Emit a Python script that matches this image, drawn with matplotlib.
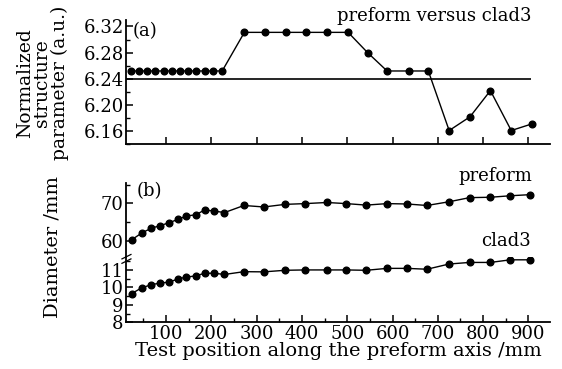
import numpy as np
import matplotlib.pyplot as plt
from matplotlib.ticker import MultipleLocator

plt.rcParams['font.family'] = ['DejaVu Serif']
plt.rcParams['font.size'] = 13

# (a) normalized structure parameter, preform versus clad3
pos_a = [22, 40, 58, 76, 95, 113, 131, 149, 167, 186, 204, 224,
         273, 319, 364, 410, 455, 502, 545, 588, 636, 679,
         725, 771, 816, 862, 907]
param_a = [6.252] * 12 + [6.311] * 6 + [6.28, 6.252, 6.252, 6.252,
                                       6.161, 6.182, 6.222, 6.161, 6.171]
ref_level = 6.24

# (b) diameters
pos_b = [24, 46, 67, 87, 107, 127, 145, 166, 185, 207, 229,
         272, 316, 363, 407, 455, 498, 542, 588, 632, 676,
         725, 770, 816, 860, 904]
preform = [60.2, 62.0, 63.3, 64.0, 64.8, 65.7, 66.6, 66.9, 68.2, 67.9, 67.5,
           69.4, 69.0, 69.7, 69.9, 70.2, 69.9, 69.5, 69.9, 69.8, 69.4,
           70.4, 71.5, 71.6, 72.0, 72.3]
clad3 = [9.64, 9.97, 10.15, 10.25, 10.3, 10.49, 10.59, 10.66, 10.81, 10.81, 10.74,
         10.9, 10.89, 10.98, 11.0, 11.0, 11.0, 10.98, 11.09, 11.09, 11.04,
         11.34, 11.43, 11.43, 11.58, 11.58]

fig = plt.figure(figsize=(5.62, 3.69), dpi=100)
ax_a = fig.add_axes([0.225, 0.609, 0.754, 0.337])
ax_hi = fig.add_axes([0.225, 0.3044, 0.754, 0.199])
ax_lo = fig.add_axes([0.225, 0.1266, 0.754, 0.1778])

xlim = (12.7, 948)
line_kw = dict(color='black', lw=1.0, marker='o', ms=4.8)

def style(ax):
    for s in ['top', 'right']:
        ax.spines[s].set_visible(False)
    for s in ['left', 'bottom']:
        ax.spines[s].set_linewidth(1.3)
    ax.tick_params(which='major', direction='in', length=5, width=1.1, pad=2)
    ax.tick_params(which='minor', direction='in', length=3, width=1.0)
    ax.set_xlim(*xlim)

# panel (a)
style(ax_a)
ax_a.plot(pos_a, param_a, **line_kw)
ax_a.hlines(ref_level, xlim[0], 905, color='black', lw=1.2)
ax_a.set_ylim(6.14, 6.33)
ax_a.yaxis.set_minor_locator(MultipleLocator(0.02))
ax_a.set_yticks([6.16, 6.20, 6.24, 6.28, 6.32])
ax_a.set_yticklabels(['6.16', '6.20', '6.24', '6.28', '6.32'])
ax_a.set_xticks(np.arange(100, 901, 100))
ax_a.tick_params(axis='x', labelbottom=False)
ax_a.text(0.015, 0.98, '(a)', transform=ax_a.transAxes, va='top', ha='left')
ax_a.text(0.957, 1.105, 'preform versus clad3', transform=ax_a.transAxes,
          va='top', ha='right')
fig.text(0.075, 0.775, 'Normalized\nstructure\nparameter (a.u.)', rotation=90,
         ha='center', va='center', linespacing=0.95, fontsize=13.5)

# panel (b), broken y axis
style(ax_hi)
ax_hi.spines['bottom'].set_visible(False)
ax_hi.plot(pos_b, preform, **line_kw)
ax_hi.set_ylim(55.7, 75.35)
ax_hi.set_yticks([60, 70])
ax_hi.yaxis.set_minor_locator(MultipleLocator(5))
ax_hi.tick_params(axis='x', which='both', bottom=False, labelbottom=False)
ax_hi.patch.set_visible(False)
ax_hi.text(0.025, 1.02, '(b)', transform=ax_hi.transAxes, va='top', ha='left')
ax_hi.text(0.957, 1.22, 'preform', transform=ax_hi.transAxes, va='top', ha='right')

style(ax_lo)
ax_lo.plot(pos_b, clad3, **line_kw)
ax_lo.set_ylim(8, 11.76)
ax_lo.set_yticks([8, 9, 10, 11])
ax_lo.yaxis.set_minor_locator(MultipleLocator(0.5))
ax_lo.set_xticks(np.arange(100, 901, 100))
ax_lo.xaxis.set_minor_locator(MultipleLocator(50))
ax_lo.patch.set_visible(False)
ax_lo.text(0.955, 1.38, 'clad3', transform=ax_lo.transAxes, va='top', ha='right')
ax_lo.set_xlabel('Test position along the preform axis /mm', labelpad=-1,
                 fontsize=14)
fig.text(0.093, 0.33, 'Diameter /mm', rotation=90, ha='center', va='center',
         fontsize=14)

# break marks on the left spine
for dy in (-0.012, 0.0):
    fig.add_artist(plt.Line2D([0.217, 0.233], [0.3044 + dy - 0.006, 0.3044 + dy + 0.006],
                              color='black', lw=0.9))

fig.savefig('out.png', dpi=100)
